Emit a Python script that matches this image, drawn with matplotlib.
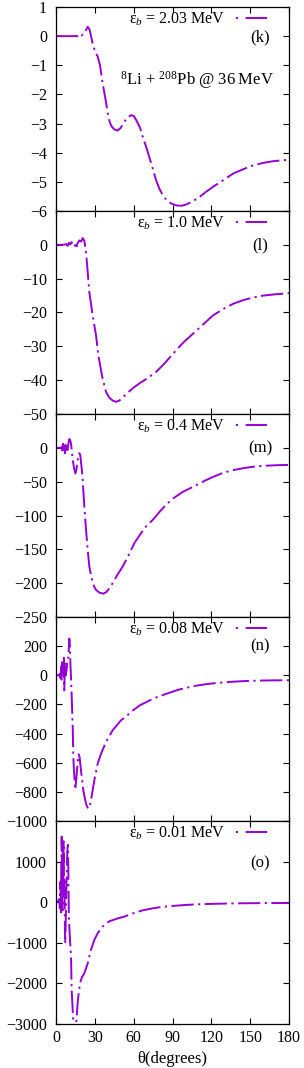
import matplotlib
matplotlib.use("Agg")
import matplotlib.pyplot as plt
from matplotlib.ticker import FuncFormatter, MultipleLocator
from matplotlib.lines import Line2D

plt.rcParams['font.family'] = ['Liberation Serif', 'DejaVu Serif']
plt.rcParams['mathtext.fontset'] = 'custom'
plt.rcParams['mathtext.rm'] = 'Liberation Serif'
plt.rcParams['mathtext.it'] = 'Liberation Serif:italic'
plt.rcParams['lines.scale_dashes'] = False

# ---------------- data ----------------
theta_k = [0, 5, 10, 14, 16, 17.5, 18.5, 19.5, 21, 22.5, 24.5, 26, 28.3, 30, 32.2, 34, 36, 38, 39.9,
           41.5, 43, 45, 47.5, 50, 52, 55, 58, 60, 62, 65, 67, 70, 72, 75, 77.3, 80, 82.4, 85, 88.8,
           93, 97, 101, 105, 110, 116, 122, 130, 137, 145, 152, 160, 168, 175, 180]
v_k = [0, 0, 0, 0, 0.01, -0.03, 0.04, 0.02, 0.06, 0.15, 0.32, 0.22, -0.25, -0.5, -0.7, -1.0, -1.62,
       -2.1, -2.62, -2.95, -3.1, -3.2, -3.24, -3.15, -2.99, -2.8, -2.71, -2.74, -2.88, -3.15, -3.45,
       -3.85, -4.14, -4.58, -4.94, -5.25, -5.45, -5.6, -5.74, -5.81, -5.82, -5.77, -5.68, -5.55,
       -5.34, -5.15, -4.92, -4.71, -4.56, -4.44, -4.35, -4.29, -4.26, -4.24]

theta_l = [0, 5, 8, 9, 10, 11, 12, 13, 14, 15.5, 16.5, 18, 19.5, 20.6, 21.9, 23.2, 24.5, 25.75,
           28.3, 30.9, 32.7, 34.5, 36, 38.6, 41.2, 44, 46.5, 49, 51.5, 55, 60, 65, 70, 77.5, 84,
           90.6, 98, 106, 114, 121.5, 130, 137, 145, 152, 160, 170, 180]
v_l = [0, 0, 0.2, -0.3, 0.6, 0.1, 0.8, 0.2, 0.6, -1.2, 0.4, 1.3, 1.0, 2.0, 1.2, -2.2, -8.1, -14.0,
       -20.8, -26.7, -32.6, -36.5, -39.5, -43.4, -45.2, -46.1, -46.4, -46.0, -45.2, -43.8, -42.2,
       -40.8, -39.6, -37.5, -35.0, -32.1, -29.0, -26.2, -23.4, -20.8, -18.8, -17.4, -16.3, -15.6,
       -15.0, -14.6, -14.3]

theta_m = [0, 3, 4.5, 5, 5.5, 6, 6.5, 7, 7.5, 8, 8.5, 9, 9.5, 10.3, 11, 11.6, 12.3, 12.9, 14, 15,
           15.8, 16.7, 17.4, 18, 18.7, 19.3, 20, 20.6, 21.9, 23.2, 24.5, 25.75, 27.8, 29.5, 30.9,
           33.5, 36.6, 39, 41, 43.8, 47, 51.5, 56, 60.5, 65, 70, 75, 80.3, 85, 90.6, 98, 106, 114,
           121.5, 129, 136.8, 145, 152.3, 160, 170, 180]
v_m = [0, 0, 1, -4, 6, -7, 5, -8, 4, -6, 3, -3, 6, 13, 11, 6, -6, -18, -30, -38, -32, -18, -11, -8,
       -10, -20.6, -33, -47.6, -87, -121, -151, -175.5, -195, -205, -210, -214, -215.5, -213, -208,
       -200, -189, -175.5, -159, -141, -128, -115, -106, -94, -84, -74.6, -65, -57.5, -49.5, -42.8,
       -37, -32.9, -30, -28, -26.6, -25.7, -25.2]

theta_n = [0, 2, 3, 3.5, 3.9, 4.3, 4.6, 5.0, 5.4, 5.7, 6.1, 6.4, 6.8, 7.2, 7.6, 8.2, 8.7, 9.3, 9.8,
           10.3, 10.8, 11.2, 11.6, 12.4, 12.9, 13.4, 13.8, 14.2, 14.9, 15.4, 16, 16.7, 17.5, 18.2,
           19.3, 20.2, 21.1, 22.2, 23.2, 24.2, 25.2, 26.1, 27, 28.3, 29.6, 31, 32.2, 34.8, 38.6,
           43.8, 50.2, 54.6, 58, 64.9, 75, 85.5, 95, 106, 115, 124, 135, 147, 160, 170, 180]
v_n = [0, 0, 10, -20, 60, -30, 90, -10, 80, 20, 120, -103, 60, 91, 0, 40, 100, 103, 171, 252, 200,
       60, -11, -217, -355, -560, -640, -698, -785, -740, -675, -600, -542, -560, -652, -720, -789,
       -840, -880, -905, -915, -900, -858, -790, -721, -660, -606, -538, -458, -377, -309, -280,
       -250, -206, -160, -126, -98, -75, -62, -53, -45, -39, -36, -34.5, -34]

theta_o = [0, 1.5, 2.5, 3.0, 3.4, 3.8, 4.1, 4.4, 4.7, 5.0, 5.3, 5.6, 5.9, 6.2, 6.5, 6.9, 7.2, 7.6,
           8.0, 8.4, 8.8, 9.2, 9.5, 9.9, 10.3, 10.8, 11.2, 11.6, 12.1, 12.9, 13.4, 14.2, 15.0, 15.8,
           16.7, 17.5, 18.5, 20, 21.9, 24.5, 27, 29.6, 32.2, 36, 41.2, 47.6, 52.8, 59.7, 67, 75.2,
           82, 90.6, 100, 111, 124, 137, 150, 165, 180]
v_o = [0, 20, 80, -150, 500, -250, 900, 1617, 300, -200, 1200, 400, 1500, 200, 600, -724, -1010,
       -350, 300, 850, 1300, 1412, 900, -300, -600, -930, -1100, -1340, -2160, -2655, -2980, -3300,
       -3250, -2900, -2490, -2250, -2000, -1850, -1750, -1504, -1176, -930, -765, -600, -470, -400,
       -355, -272, -200, -148, -115, -91, -68, -50, -38, -30, -25, -21, -20]

energies = ["2.03", "1.0", "0.4", "0.08", "0.01"]
panel_tags = ["(k)", "(l)", "(m)", "(n)", "(o)"]
ylims = [(-6, 1), (-50, 10), (-250, 50), (-1000, 400), (-3000, 2000)]
ysteps = [1, 10, 50, 200, 1000]
xticks = [0, 30, 60, 90, 120, 150, 180]
series = [(theta_k, v_k), (theta_l, v_l), (theta_m, v_m), (theta_n, v_n), (theta_o, v_o)]

# ---------------- layout ----------------
W, H = 304, 1068
edges = [7, 211, 414, 617, 821, 1024]
left_px, right_px = 56, 289
tag_y = [0.853, 0.833, 0.831, 0.854, 0.79]
color = '#9400D3'
dash = (0, (16, 3.2, 1.6, 3.2))
dash_leg = (19.5, (16, 5.5, 1.6, 5.5))
FS = 11.5


def fmt(val):
    s = f"{val:g}"
    return s.replace('-', '\u2212')


fig = plt.figure(figsize=(W / 100, H / 100), dpi=100)
for i in range(5):
    top, bot = edges[i], edges[i + 1]
    ax = fig.add_axes([left_px / W, 1 - bot / H, (right_px - left_px) / W, (bot - top) / H])
    th, v = series[i]
    ax.plot(th, v, color=color, lw=1.4, linestyle=dash)
    ax.set_xlim(0, 180)
    ax.set_ylim(*ylims[i])
    ax.set_xticks(xticks)
    ax.yaxis.set_major_locator(MultipleLocator(ysteps[i]))
    ytop = ylims[i][1]
    if i > 0:
        ax.yaxis.set_major_formatter(FuncFormatter(
            lambda val, pos, t=ytop: '' if abs(val - t) < 1e-9 else fmt(val)))
    else:
        ax.yaxis.set_major_formatter(FuncFormatter(lambda val, pos: fmt(val)))
    ax.tick_params(direction='in', top=True, right=True, length=4.5, width=0.8,
                   labelsize=FS)
    ax.tick_params(axis='y', pad=6.5)
    ax.tick_params(axis='x', pad=4)
    if i < 4:
        ax.tick_params(labelbottom=False)
    else:
        ax.set_xlabel("θ(degrees)", fontsize=FS + 0.5, labelpad=4)
    for s in ax.spines.values():
        s.set_linewidth(0.9)
    h = Line2D([], [], color=color, lw=1.4, linestyle=dash_leg)
    ax.legend([h], [f"ε$_b$ = {energies[i]}\u2009MeV"], loc='upper right', markerfirst=False,
              frameon=False, fontsize=FS, handlelength=2.1, handletextpad=0.55,
              borderaxespad=0, borderpad=0,
              bbox_to_anchor=((267 - left_px) / (right_px - left_px), 1 - 3.5 / (bot - top)))
    ax.text(0.876, tag_y[i], panel_tags[i], transform=ax.transAxes, fontsize=FS + 0.5,
            ha='center', va='center')
    if i == 0:
        ax.text(0.604, 0.642, "$^{8}$Li + $^{208}$Pb @ 36\u2009MeV", transform=ax.transAxes,
                fontsize=FS + 0.5, ha='center', va='center')

fig.savefig("out.png", dpi=100)
